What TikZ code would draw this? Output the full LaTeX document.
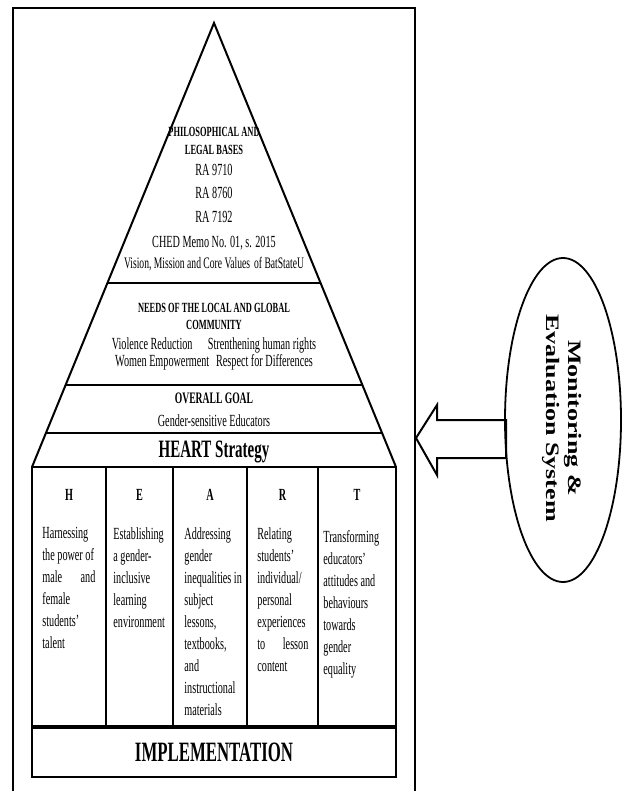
\documentclass[tikz,border=0pt]{standalone}
\usepackage{fontspec}
\setmainfont{Liberation Serif}[FakeStretch=0.6]
\newfontfamily\rotfont{Liberation Serif}[FakeStretch=1.37]
\usetikzlibrary{shapes.geometric,calc,positioning}

\begin{document}
\begin{tikzpicture}[x=0.5pt,y=-0.5pt,
    layer/.style={line width=1pt},
    head/.style={font=\bfseries\fontsize{7}{8}\selectfont},
    body/.style={font=\fontsize{8.5}{9.5}\selectfont},
    letter/.style={font=\bfseries\fontsize{8.5}{9.5}\selectfont},
    coltext/.style={anchor=north west, align=left, inner sep=0pt, font=\fontsize{8.5}{11}\selectfont}]
    \useasboundingbox (0,0) rectangle (629,791);
    % Frame
    \draw[line width=1.1pt] (13,791) -- (13,8) -- (415,8) -- (415,791);

    % Pyramid
    \coordinate (apex) at (214,23);
    \coordinate (bl) at (32,467);
    \coordinate (br) at (396,467);
    \draw[layer] (bl) -- (apex) -- (br);
    \foreach \y in {283,385,433}
        \draw[layer] ($(apex)!{(\y-23)/444}!(bl)$) -- ($(apex)!{(\y-23)/444}!(br)$);

    % Philosophical and legal bases
    \node[head] (phil) at (214,132) {PHILOSOPHICAL AND};
    \node[head] (legal) at (214,150) {LEGAL BASES};
    \node[body] (ra1) at (214,170) {RA 9710};
    \node[body] (ra2) at (214,193) {RA 8760};
    \node[body] (ra3) at (214,217) {RA 7192};
    \node[body] (ched) at (214,243) {CHED Memo No. 01, s. 2015};
    \node[body, font=\fontsize{8}{9}\selectfont] (vision) at (214,264) {Vision, Mission and Core Values\hspace{0.25em}of BatStateU};

    % Needs
    \node[head] (needs) at (214,308) {NEEDS OF THE LOCAL AND GLOBAL};
    \node[head] (comm) at (214,325) {COMMUNITY};
    \node[body] (viol) at (214,345) {Violence Reduction\hspace{0.9em}Strenthening human rights};
    \node[body] (women) at (214,362) {Women Empowerment\hspace{0.4em}Respect for Differences};

    % Goal and strategy
    \node[head, font=\bfseries\fontsize{8}{9}\selectfont] (goal) at (214,398) {OVERALL GOAL};
    \node[body] (gse) at (214,421) {Gender-sensitive Educators};
    \node[font=\bfseries\fontsize{12.5}{13.5}\selectfont] (heart) at (214,452) {HEART Strategy};

    % HEART columns
    \draw[layer] (32,467) rectangle (396,727);
    \foreach \x in {106,173,247,318} \draw[layer] (\x,467) -- (\x,727);
    \foreach \x/\l in {69/H,139.5/E,210/A,282.5/R,357/T} \node[letter] (l\l) at (\x,495) {\l};
    \node[coltext] (tH) at (42,527) {Harnessing\\the power of\\\makebox[26.5pt][s]{male and}\\female\\students’\\talent};
    \node[coltext] (tE) at (113,527) {Establishing\\a gender-\\inclusive\\learning\\environment};
    \node[coltext] (tA) at (184,527) {Addressing\\gender\\inequalities in\\subject\\lessons,\\textbooks,\\and\\instructional\\materials};
    \node[coltext] (tR) at (257,527) {Relating\\students’\\individual/\\personal\\experiences\\\makebox[25.5pt][s]{to lesson}\\content};
    \node[coltext] (tT) at (323,530) {Transforming\\educators’\\attitudes and\\behaviours\\towards\\gender\\equality};

    % Implementation
    \draw[layer] (32,727) rectangle (396,777);
    \draw[line width=1.6pt] (32,727) -- (396,727);
    \node[font=\bfseries\fontsize{14}{15}\selectfont] (impl) at (214,752) {IMPLEMENTATION};

    % Monitoring
    \node[draw, ellipse, line width=0.9pt, minimum width=58pt, minimum height=162pt, inner sep=0pt] (mes) at (563,420) {};
    \node[rotate=-90, align=center, font=\rotfont\bfseries\fontsize{9.5}{11}\selectfont] (mestext) at (562,418) {Monitoring \&\\Evaluation System};
    \coordinate (tip) at (416,438);
    \draw[line width=1pt] (tip) -- ++(21,-33) -- ++(0,15) -- ++(69,0) -- ++(0,38) -- ++(-69,0) -- ++(0,17) -- cycle;
\end{tikzpicture}
\end{document}
